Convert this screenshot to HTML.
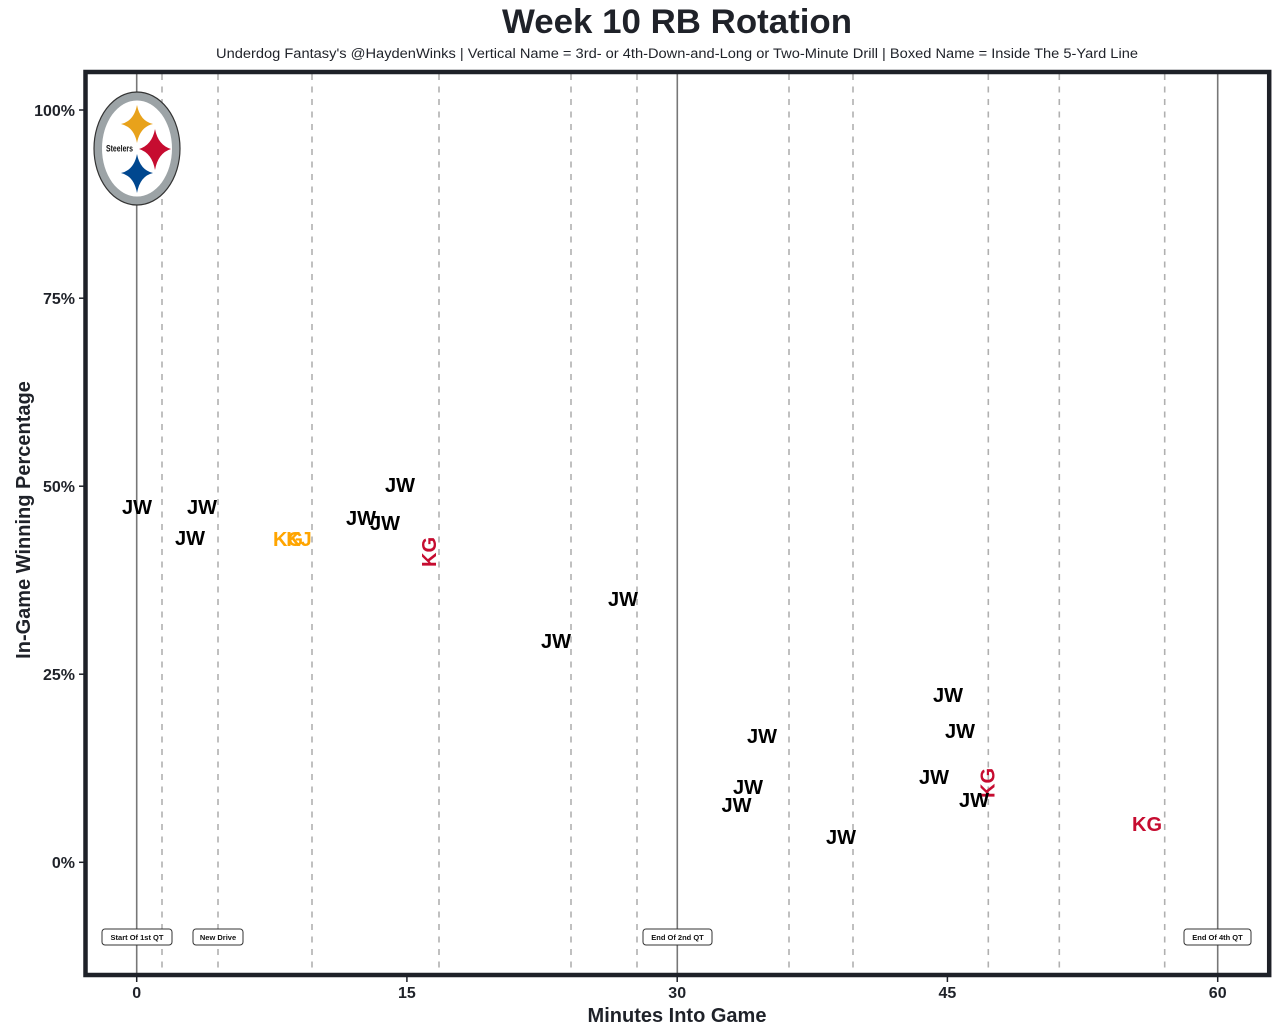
<!DOCTYPE html>
<html>
<head>
<meta charset="utf-8">
<style>
  html, body { margin:0; padding:0; background:#ffffff; }
  svg { display:block; }
  text { font-family: "Liberation Sans", Arial, sans-serif; }
</style>
</head>
<body>
<svg width="1280" height="1033" viewBox="0 0 1280 1033" xmlns="http://www.w3.org/2000/svg">
  <rect x="0" y="0" width="1280" height="1033" fill="#ffffff"/>

  <!-- Title -->
  <text x="677" y="33" text-anchor="middle" font-size="34" font-weight="bold" fill="#1f2229" textLength="350" lengthAdjust="spacingAndGlyphs">Week 10 RB Rotation</text>
  <text x="677" y="58" text-anchor="middle" font-size="13.5" fill="#1f2229" textLength="922" lengthAdjust="spacingAndGlyphs">Underdog Fantasy's @HaydenWinks | Vertical Name = 3rd- or 4th-Down-and-Long or Two-Minute Drill | Boxed Name = Inside The 5-Yard Line</text>

  <!-- Dashed drive lines -->
  <g stroke="#b0b0b0" stroke-width="1.6" stroke-dasharray="6,6.5">
    <line x1="162" y1="74" x2="162" y2="973"/>
    <line x1="218" y1="74" x2="218" y2="973"/>
    <line x1="312" y1="74" x2="312" y2="973"/>
    <line x1="439" y1="74" x2="439" y2="973"/>
    <line x1="571" y1="74" x2="571" y2="973"/>
    <line x1="637" y1="74" x2="637" y2="973"/>
    <line x1="789" y1="74" x2="789" y2="973"/>
    <line x1="853" y1="74" x2="853" y2="973"/>
    <line x1="988.3" y1="74" x2="988.3" y2="973"/>
    <line x1="1059.3" y1="74" x2="1059.3" y2="973"/>
    <line x1="1164.7" y1="74" x2="1164.7" y2="973"/>
  </g>

  <!-- Solid quarter lines -->
  <g stroke="#777777" stroke-width="1.6">
    <line x1="136.7" y1="74" x2="136.7" y2="973"/>
    <line x1="677.3" y1="74" x2="677.3" y2="973"/>
    <line x1="1217.7" y1="74" x2="1217.7" y2="973"/>
  </g>

  <!-- Logo -->
  <g>
    <ellipse cx="137" cy="148.5" rx="43" ry="56.5" fill="#9ca3a6" stroke="#333333" stroke-width="1.2"/>
    <ellipse cx="137" cy="148.5" rx="35" ry="48" fill="#ffffff"/>
    <path d="M137,105 Q140,121 153,124 Q140,127 137,143 Q134,127 121,124 Q134,121 137,105 Z" fill="#E8A21B"/>
    <path d="M155,129 Q158,145 171,149 Q158,153 155,170 Q152,153 139,149 Q152,145 155,129 Z" fill="#C60C30"/>
    <path d="M137,154 Q140,170 153,173 Q140,176 137,193 Q134,176 121,173 Q134,170 137,154 Z" fill="#00478F"/>
    <text x="119.5" y="151.5" text-anchor="middle" font-size="9" font-weight="bold" fill="#111" textLength="27" lengthAdjust="spacingAndGlyphs">Steelers</text>
  </g>

  <!-- Frame -->
  <rect x="85.5" y="72" width="1183.7" height="903" fill="none" stroke="#1e2128" stroke-width="4.5"/>

  <!-- Ticks -->
  <g stroke="#1e2128" stroke-width="1.5">
    <line x1="79" y1="110" x2="84" y2="110"/>
    <line x1="79" y1="298.2" x2="84" y2="298.2"/>
    <line x1="79" y1="486.2" x2="84" y2="486.2"/>
    <line x1="79" y1="674.2" x2="84" y2="674.2"/>
    <line x1="79" y1="862.3" x2="84" y2="862.3"/>
    <line x1="136.7" y1="977" x2="136.7" y2="982"/>
    <line x1="406.9" y1="977" x2="406.9" y2="982"/>
    <line x1="677.2" y1="977" x2="677.2" y2="982"/>
    <line x1="947.4" y1="977" x2="947.4" y2="982"/>
    <line x1="1217.7" y1="977" x2="1217.7" y2="982"/>
  </g>
  <g font-size="16" font-weight="bold" fill="#1f2229" text-anchor="end">
    <text x="75" y="116">100%</text>
    <text x="75" y="304">75%</text>
    <text x="75" y="492">50%</text>
    <text x="75" y="680">25%</text>
    <text x="75" y="868">0%</text>
  </g>
  <g font-size="16" font-weight="bold" fill="#1f2229" text-anchor="middle">
    <text x="136.7" y="998">0</text>
    <text x="406.9" y="998">15</text>
    <text x="677.2" y="998">30</text>
    <text x="947.4" y="998">45</text>
    <text x="1217.7" y="998">60</text>
  </g>

  <!-- Axis labels -->
  <text x="677" y="1022" text-anchor="middle" font-size="20" font-weight="bold" fill="#1f2229">Minutes Into Game</text>
  <text transform="translate(30,520) rotate(-90)" x="0" y="0" text-anchor="middle" font-size="20" font-weight="bold" fill="#1f2229">In-Game Winning Percentage</text>

  <!-- Boxed annotations -->
  <g>
    <rect x="102" y="929" width="70" height="16" rx="3" fill="#ffffff" stroke="#333" stroke-width="1"/>
    <text x="137" y="940" text-anchor="middle" font-size="7.5" font-weight="bold" fill="#111">Start Of 1st QT</text>
    <rect x="193" y="929" width="50" height="16" rx="3" fill="#ffffff" stroke="#333" stroke-width="1"/>
    <text x="218" y="940" text-anchor="middle" font-size="7.5" font-weight="bold" fill="#111">New Drive</text>
    <rect x="643" y="929" width="69" height="16" rx="3" fill="#ffffff" stroke="#333" stroke-width="1"/>
    <text x="677.5" y="940" text-anchor="middle" font-size="7.5" font-weight="bold" fill="#111">End Of 2nd QT</text>
    <rect x="1184" y="929" width="67" height="16" rx="3" fill="#ffffff" stroke="#333" stroke-width="1"/>
    <text x="1217.5" y="940" text-anchor="middle" font-size="7.5" font-weight="bold" fill="#111">End Of 4th QT</text>
  </g>

  <!-- Data labels -->
  <g font-size="20" font-weight="bold" text-anchor="middle">
    <text x="137" y="514" fill="#000">JW</text>
    <text x="202" y="514" fill="#000">JW</text>
    <text x="190" y="545" fill="#000">JW</text>
    <text x="288" y="546" fill="#FFA500">KG</text>
    <text x="299" y="546" fill="#FFA500">KJ</text>
    <text x="400" y="492" fill="#000">JW</text>
    <text x="361" y="525" fill="#000">JW</text>
    <text x="385" y="530" fill="#000">JW</text>
    <text transform="translate(429,552) rotate(-90)" x="0" y="7.2" fill="#C60C30">KG</text>
    <text x="623" y="606" fill="#000">JW</text>
    <text x="556" y="648" fill="#000">JW</text>
    <text x="948" y="702" fill="#000">JW</text>
    <text x="960" y="738" fill="#000">JW</text>
    <text x="762" y="743" fill="#000">JW</text>
    <text x="934" y="784" fill="#000">JW</text>
    <text transform="translate(987.5,783) rotate(-90)" x="0" y="7.2" fill="#C60C30">KG</text>
    <text x="974" y="807" fill="#000">JW</text>
    <text x="748" y="794" fill="#000">JW</text>
    <text x="736.5" y="812" fill="#000">JW</text>
    <text x="841" y="844" fill="#000">JW</text>
    <text x="1147" y="831" fill="#C60C30">KG</text>
  </g>
</svg>
</body>
</html>
